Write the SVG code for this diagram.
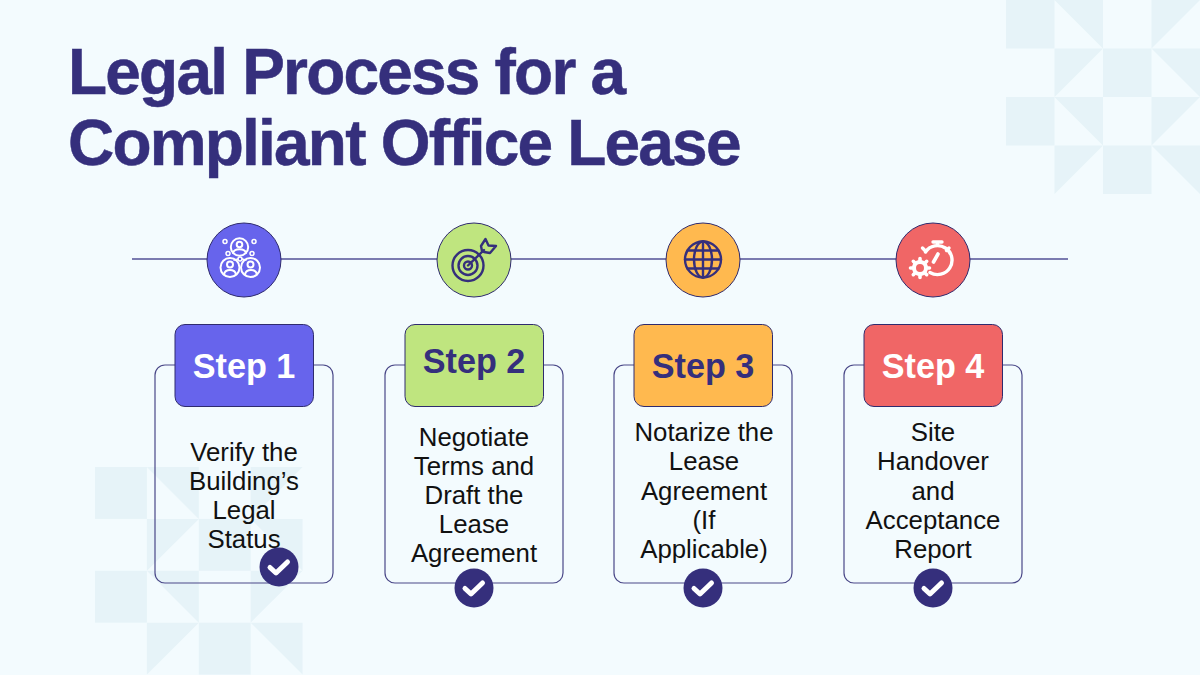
<svg xmlns="http://www.w3.org/2000/svg" width="1200" height="675" viewBox="0 0 1200 675">
<style>
text{font-family:"Liberation Sans",Arial,sans-serif;text-anchor:middle}
.title{font-size:64px;font-weight:700;fill:#352f7c;stroke:#352f7c;stroke-width:.5;text-anchor:start;letter-spacing:-1.8px}
.step{font-size:34.200px;font-weight:700}
.body{font-size:25.800px;fill:#111}
.card{fill:none;stroke:#4a4888;stroke-width:1.2}
.tab{stroke:#2f2b6e;stroke-width:1}
.disc{stroke:#2f2b6e;stroke-width:1}
.pat{fill:#e6f3f8}
.line{stroke:#7a7bb0;stroke-width:2;fill:none}
.w{fill:none;stroke:#fff;stroke-width:2;stroke-linecap:round;stroke-linejoin:round}
.n{fill:none;stroke:#352f7c;stroke-width:2.400;stroke-linecap:round;stroke-linejoin:round}
.chk{fill:none;stroke:#fff;stroke-width:5;stroke-linecap:round;stroke-linejoin:round}
</style>
<defs>
<g id="pattern" class="pat">
<rect x="0" y="0" width="48.500" height="48.500"/>
<path d="M48.500 0H97V48.500Z"/>
<path d="M145.500 0H194L145.500 48.500Z"/>
<path d="M48.500 48.500H97L48.500 97Z"/>
<rect x="97" y="48.500" width="48.500" height="48.500"/>
<path d="M145.500 48.500H194V97Z"/>
<rect x="0" y="97" width="48.500" height="48.500"/>
<path d="M48.500 97H97V145.500Z"/>
<path d="M145.500 97H194L145.500 145.500Z"/>
<path d="M48.500 145.500H97L48.500 194Z"/>
<rect x="97" y="145.500" width="48.500" height="48.500"/>
<path d="M145.500 145.500H194V194Z"/>
</g>
<g id="check"><circle r="19.500" fill="#352f7c"/><path class="chk" d="M-9 0.500L-3 6L8.500 -5"/></g>
</defs>
<rect width="1200" height="675" fill="#f3fbfe"/>
<use href="#pattern" transform="translate(1006 0)"/>
<use href="#pattern" transform="translate(95 467) scale(1.07)"/>
<g id="title">
<text class="title" x="68" y="94">Legal Process for a</text>
<text class="title" x="68" y="165">Compliant Office Lease</text>
</g>
<g id="connectors"><path class="line" d="M132 259H1068"/></g>

<g id="node-1">
<circle class="disc" cx="244" cy="260" r="37" fill="#6764ec"/>
<g class="w">
<circle cx="239.500" cy="247" r="8.700"/><circle cx="239.500" cy="244.500" r="2.800"/><path d="M233 253c1-5 12-5 13 0"/>
<circle cx="230" cy="267.500" r="9.500"/><circle cx="230" cy="264.500" r="3"/><path d="M224 274.500c1-6 11-6 12 0"/>
<circle cx="250.500" cy="267.500" r="9.500"/><circle cx="250.500" cy="264.500" r="3"/><path d="M245 274.500c1-6 11-6 12 0"/>
<path d="M234 260l4-1M246 260l-4-1" stroke-width="1.500"/>
</g>
<g fill="none" stroke="#fff" stroke-width="1.500"><circle cx="225" cy="241.500" r="2"/><circle cx="254" cy="241.500" r="2"/><circle cx="228" cy="253.500" r="2"/><circle cx="252" cy="253.500" r="2"/><circle cx="240" cy="259" r="2"/></g>
<rect class="card" x="155" y="365" width="178" height="218" rx="10"/>
<rect class="tab" x="175" y="324.500" width="138.500" height="82" rx="10" fill="#6764ec"/>
<text class="step" x="244" y="378" fill="#fff">Step 1</text>
<text class="body" x="244" y="461">Verify the</text><text class="body" x="244" y="490">Building’s</text><text class="body" x="244" y="519">Legal</text><text class="body" x="244" y="548">Status</text>
<use href="#check" x="279" y="567"/>
</g>

<g id="node-2">
<circle class="disc" cx="474" cy="260" r="37" fill="#bfe57f"/>
<g class="n">
<circle cx="468" cy="265.500" r="15.500"/><circle cx="468" cy="265.500" r="9.500"/><circle cx="468" cy="265.500" r="4"/>
<path d="M468 265.500L484 250"/><path d="M482 251L481 246L485.500 239L488.500 245.500L496 246L490 253L484 252Z"/>
</g>
<rect class="card" x="385" y="365" width="178" height="218" rx="10"/>
<rect class="tab" x="405" y="324.500" width="138.500" height="82" rx="10" fill="#bfe57f"/>
<text class="step" x="474" y="373" fill="#352f7c">Step 2</text>
<text class="body" x="474" y="446">Negotiate</text><text class="body" x="474" y="475">Terms and</text><text class="body" x="474" y="504">Draft the</text><text class="body" x="474" y="533">Lease</text><text class="body" x="474" y="562">Agreement</text>
<use href="#check" x="474" y="588"/>
</g>

<g id="node-3">
<circle class="disc" cx="703" cy="260" r="37" fill="#ffb94f"/>
<g class="n">
<circle cx="703" cy="259.500" r="18"/><ellipse cx="703" cy="259.500" rx="9" ry="18"/><path d="M703 241.500V277.500M685 259.500H721M687.500 250.500H718.500M687.500 268.500H718.500"/>
</g>
<rect class="card" x="614" y="365" width="178" height="218" rx="10"/>
<rect class="tab" x="634" y="324.500" width="138.500" height="82" rx="10" fill="#ffb94f"/>
<text class="step" x="703" y="378" fill="#352f7c">Step 3</text>
<text class="body" x="704" y="441">Notarize the</text><text class="body" x="704" y="470">Lease</text><text class="body" x="704" y="500">Agreement</text><text class="body" x="704" y="529">(If</text><text class="body" x="704" y="558">Applicable)</text>
<use href="#check" x="703" y="588"/>
</g>

<g id="node-4">
<circle class="disc" cx="933" cy="260" r="37" fill="#f06666"/>
<g fill="none" stroke="#fff" stroke-linecap="round">
<path d="M930 272.500A14.500 14.500 0 1 0 925.500 252" stroke-width="3.400"/>
<path d="M933 242H942M937.500 242V245M922.500 248L925 250.500M949 248L946.500 250.500" stroke-width="3.400"/>
<path d="M938 254L933.500 262" stroke-width="3.600"/>
<circle cx="920" cy="268" r="6" stroke-width="4"/>
<path d="M920 258.500V261M920 275V277.500M910.500 268H913M927 268H929.500M913.300 261.300L915 263M925 273L926.700 274.700M913.300 274.700L915 273M925 263L926.700 261.300" stroke-width="3.600"/>
</g>
<rect class="card" x="844" y="365" width="178" height="218" rx="10"/>
<rect class="tab" x="864" y="324.500" width="138.500" height="82" rx="10" fill="#f06666"/>
<text class="step" x="933" y="378" fill="#fff">Step 4</text>
<text class="body" x="933" y="441">Site</text><text class="body" x="933" y="470">Handover</text><text class="body" x="933" y="500">and</text><text class="body" x="933" y="529">Acceptance</text><text class="body" x="933" y="558">Report</text>
<use href="#check" x="933" y="588"/>
</g>
</svg>
